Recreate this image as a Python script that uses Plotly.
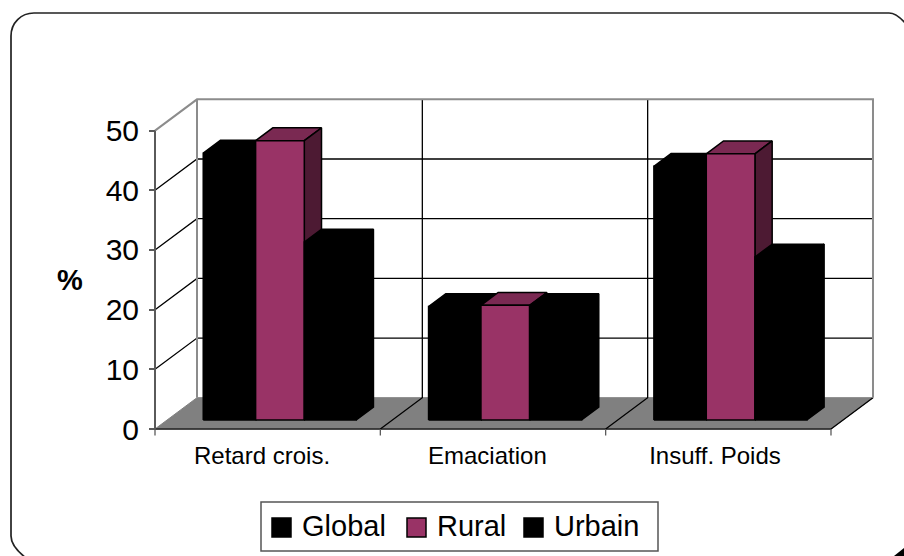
import plotly.graph_objects as go

categories = ["Retard crois.", "Emaciation", "Insuff. Poids"]
series_names = ["Global", "Rural", "Urbain"]
global_values = [44.7, 19.0, 42.5]
rural_values = [46.8, 19.2, 44.6]
urbain_values = [29.8, 19.0, 27.3]
y_ticks = [0, 10, 20, 30, 40, 50]

W, H = 904, 556
X0, Y0 = 155, 429      # pixel of category 0 / value 0 on the front plane
CAT_PX, VAL_PX = 225.33, 5.967
DX, DY = 42 / CAT_PX, 31.3 / VAL_PX  # full depth, in axis units
GAP = 0.16
EDGES = [0.0, 0.2325, 0.4485, 0.679]   # bar boundaries inside a category
D_FRONT, D_BACK = 0.29, 0.70

COLORS = {"Global": ("#000000", "#000000", "#000000"),
          "Rural": ("#993366", "#7A2952", "#4D1A33"),
          "Urbain": ("#000000", "#000000", "#000000")}


def P(c, v, d=0.0):
    return c + d * DX, v + d * DY


def px(x):
    return x / W


def py(y):
    return 1 - y / H


fig = go.Figure()


def poly(points, fill, line="#000000", lw=1.0):
    xs = [p[0] for p in points] + [points[0][0]]
    ys = [p[1] for p in points] + [points[0][1]]
    fig.add_trace(go.Scatter(x=xs, y=ys, mode="lines", fill="toself", fillcolor=fill,
                             line=dict(color=line, width=lw), hoverinfo="skip", showlegend=False))


def seg(points, color, lw=1.0):
    fig.add_trace(go.Scatter(x=[p[0] for p in points], y=[p[1] for p in points], mode="lines",
                             line=dict(color=color, width=lw), hoverinfo="skip", showlegend=False))


n = len(categories)
top = y_ticks[-1]
# floor
poly([P(0, 0), P(n, 0), P(n, 0, 1), P(0, 0, 1)], "#808080", "#808080", 1)
seg([P(0, 0), P(n, 0)], "#222222", 1.3)
# grid lines on the back and left walls
for t in y_ticks[1:-1]:
    seg([P(0, t), P(0, t, 1), P(n, t, 1)], "#000000", 1.3)
# vertical back wall and floor dividers
for c in range(1, n):
    seg([P(c, 0), P(c, 0, 1), P(c, top, 1)], "#000000", 1.3)
seg([P(n, 0), P(n, 0, 1)], "#000000", 1.3)
# wall outlines
seg([P(0, top), P(0, top, 1), P(n, top, 1), P(n, 0, 1)], "#8c8c8c", 2)
seg([P(0, 0, 1), P(0, top, 1)], "#8c8c8c", 2)
# value axis line
seg([P(0, 0), P(0, top)], "#5a5a5a", 2)
# category ticks
for c in range(0, n + 1):
    seg([P(c, 0), P(c, -1.1)], "#5a5a5a", 1.3)

# bars
for i in range(n):
    for j, (name, vals) in enumerate(zip(series_names, (global_values, rural_values, urbain_values))):
        front, roof, side = COLORS[name]
        l = i + GAP + EDGES[j]
        r = i + GAP + EDGES[j + 1]
        v = vals[i]
        poly([P(l, v, D_FRONT), P(l, v, D_BACK), P(r, v, D_BACK), P(r, v, D_FRONT)], roof, lw=1.5)
        poly([P(r, 0, D_FRONT), P(r, 0, D_BACK), P(r, v, D_BACK), P(r, v, D_FRONT)], side, lw=1.5)
        poly([P(l, 0, D_FRONT), P(r, 0, D_FRONT), P(r, v, D_FRONT), P(l, v, D_FRONT)], front, lw=1.5)

FONT = "Liberation Sans"


def pt(x, y):
    return f"{px(x):.5f} {py(y):.5f}"


shapes = [
    dict(type="path", xref="paper", yref="paper", line=dict(color="#222222", width=1.7),
         path=f"M {pt(26, 558)} C {pt(17, 551)} {pt(11, 543)} {pt(11, 536)} L {pt(11, 36)} "
              f"C {pt(11, 23)} {pt(21, 13)} {pt(34, 13)} L {pt(889, 13)} C {pt(895, 13)} {pt(900, 17)} {pt(906, 24)}"),
    dict(type="path", xref="paper", yref="paper", line=dict(color="#000000", width=0), fillcolor="#000000",
         path=f"M {pt(894, 556)} L {pt(904, 548)} L {pt(904, 556)} Z"),
    dict(type="rect", xref="paper", yref="paper", x0=px(261), x1=px(658), y0=py(551), y1=py(502),
         line=dict(color="#555555", width=1.5), fillcolor="white"),
]
annotations = [dict(text="<b>%</b>", xref="paper", yref="paper", x=px(69.5), y=py(280), showarrow=False,
                    xanchor="center", yanchor="middle",
                    font=dict(family=FONT, size=29, color="#000000"))]
lx = [(272, 300), (407, 435), (524, 552)]
for name, (sx, tx) in zip(series_names, lx):
    shapes.append(dict(type="rect", xref="paper", yref="paper", x0=px(sx), x1=px(sx + 19),
                       y0=py(537), y1=py(518), fillcolor=COLORS[name][0],
                       line=dict(color="#000000", width=1.5)))
    annotations.append(dict(text=name, xref="paper", yref="paper", x=px(tx), y=py(526), xanchor="left",
                            yanchor="middle", showarrow=False, font=dict(family=FONT, size=29, color="#000000")))

fig.update_layout(
    width=W, height=H, margin=dict(l=0, r=0, t=0, b=0), paper_bgcolor="white", plot_bgcolor="white",
    showlegend=False, shapes=shapes, annotations=annotations,
    font=dict(family=FONT, color="#000000"),
    xaxis=dict(range=[-X0 / CAT_PX, (W - X0) / CAT_PX], showgrid=False, zeroline=False, showline=False,
               anchor="free", position=1 - Y0 / H,
               tickmode="array", tickvals=[0.475, 1.475, 2.485], ticktext=categories,
               ticks="", tickfont=dict(size=24, family=FONT), ticklabelstandoff=10, fixedrange=True),
    yaxis=dict(range=[-(H - Y0) / VAL_PX, Y0 / VAL_PX], showgrid=False, zeroline=False, showline=False,
               anchor="free", position=X0 / W,
               tickmode="array", tickvals=y_ticks, ticks="outside", ticklen=6, tickcolor="#5a5a5a", tickwidth=1.5,
               tickfont=dict(size=30, family=FONT), ticklabelstandoff=4, fixedrange=True),
)
fig.write_html("out.html", config={"displayModeBar": False},
               post_script="document.body.style.margin='0';")
